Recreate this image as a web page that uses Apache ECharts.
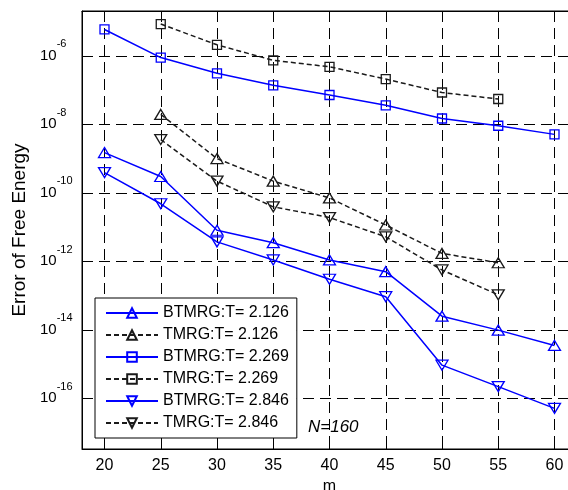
<!DOCTYPE html>
<html><head><meta charset="utf-8">
<script src="https://cdn.jsdelivr.net/npm/echarts@6/dist/echarts.min.js"></script>
<style>html,body{margin:0;padding:0;background:#fff}#c{width:568px;height:490px}</style>
</head><body><div id="c"></div>
<script>
// m values
const mBTMRG = [20, 25, 30, 35, 40, 45, 50, 55, 60];
const mTMRG = [25, 30, 35, 40, 45, 50, 55];
// Errors of free energy
const btmrg2126 = [1.5e-9, 3.0e-10, 8.1e-12, 3.5e-12, 1.1e-12, 5.0e-13, 2.5e-14, 9.8e-15, 3.5e-15];
const tmrg2126 = [1.95e-8, 1.0e-9, 2.2e-10, 7.1e-11, 1.15e-11, 1.7e-12, 9.1e-13];
const btmrg2269 = [5.9e-6, 8.9e-7, 3.1e-7, 1.38e-7, 7.2e-8, 3.6e-8, 1.48e-8, 9.1e-9, 5.1e-9];
const tmrg2269 = [8.5e-6, 2.1e-6, 7.4e-7, 4.8e-7, 2.1e-7, 8.5e-8, 5.5e-8];
const btmrg2846 = [3.9e-10, 4.8e-11, 3.7e-12, 1.1e-12, 3.0e-13, 9.3e-14, 9.3e-16, 2.2e-16, 5.1e-17];
const tmrg2846 = [3.6e-9, 2.2e-10, 3.9e-11, 1.9e-11, 5.2e-12, 5.6e-13, 1.05e-13];
// tick labels
const xTickLabels = [20, 25, 30, 35, 40, 45, 50, 55, 60];
const yTickExponents = [-16, -14, -12, -10, -8, -6];
const seriesNames = ['BTMRG:T= 2.126', 'TMRG:T= 2.126', 'BTMRG:T= 2.269', 'TMRG:T= 2.269', 'BTMRG:T= 2.846', 'TMRG:T= 2.846'];

function mk(name, xs, ys, blue, shape) {
  const col = blue ? '#0000ff' : '#1a1a1a';
  return {
    name: name, type: 'line',
    data: xs.map((x, i) => [x, Math.log10(ys[i])]),
    symbol: shape === 'sq' ? 'rect' : 'triangle',
    symbolRotate: shape === 'down' ? 180 : 0,
    symbolSize: shape === 'sq' ? 9 : [12, 10],
    showAllSymbol: true,
    lineStyle: { color: col, width: 1.5, type: blue ? 'solid' : [5, 3] },
    itemStyle: { color: 'rgba(255,255,255,0)', borderColor: col, borderWidth: 1.3 },
    emphasis: { disabled: true },
    z: blue ? 3 : 2
  };
}

const chart = echarts.init(document.getElementById('c'), null, { renderer: 'canvas' });
chart.setOption({
  animation: false,
  backgroundColor: '#fff',
  grid: { left: 82, top: 11, bottom: 41, right: -9, outerBoundsMode: 'none', containLabel: false, show: true, borderColor: '#000', borderWidth: 1, backgroundColor: 'transparent' },
  xAxis: [{
    type: 'value', min: 18, max: 62, splitNumber: 9,
    name: 'm', nameLocation: 'middle', nameGap: 27,
    nameTextStyle: { fontFamily: 'Arial', fontSize: 16, color: '#000' },
    axisLine: { show: true, lineStyle: { color: '#000', width: 1 } },
    axisTick: { show: true, inside: true, length: 5, lineStyle: { color: '#000' } },
    axisLabel: {
      margin: 9, fontFamily: 'Arial', fontSize: 16, color: '#000',
      formatter: v => xTickLabels.indexOf(v) >= 0 ? String(v) : ''
    },
    splitLine: { show: true, lineStyle: { color: '#000', width: 1, type: [11, 6] } }
  }, {
    type: 'value', min: 18, max: 62, splitNumber: 9, position: 'top',
    axisLine: { show: true, lineStyle: { color: '#000', width: 1 } },
    axisTick: { show: true, inside: true, length: 5, lineStyle: { color: '#000' } },
    axisLabel: { show: false }, splitLine: { show: false }
  }],
  yAxis: {
    type: 'value', min: -17.48, max: -4.69, splitNumber: 6,
    name: 'Error of Free Energy', nameLocation: 'middle', nameGap: 50,
    nameTextStyle: { fontFamily: 'Arial', fontSize: 19, color: '#000' },
    axisLine: { show: true, lineStyle: { color: '#000', width: 1 } },
    axisTick: { show: true, inside: true, length: 5, lineStyle: { color: '#000' } },
    axisLabel: {
      margin: 42, align: 'left',
      formatter: v => yTickExponents.indexOf(v) >= 0 ? '{b|10}{e|' + v + '}' : '',
      rich: {
        b: { fontFamily: 'Arial', fontSize: 15, color: '#000', lineHeight: 34 },
        e: { fontFamily: 'Arial', fontSize: 11, color: '#000', lineHeight: 10, verticalAlign: 'top' }
      }
    },
    splitLine: { show: true, lineStyle: { color: '#000', width: 1, type: [11, 6] } }
  },
  legend: {
    orient: 'vertical', left: 95, top: 298,
    itemWidth: 52, itemHeight: 12, itemGap: 6,
    padding: [7, 8, 7, 10],
    borderColor: '#000', borderWidth: 1, backgroundColor: '#fff',
    textStyle: { fontFamily: 'Arial', fontSize: 16, color: '#000' },
    data: seriesNames
  },
  graphic: [{
    type: 'text', left: 308, top: 419,
    style: { text: 'N=160', font: 'italic 17px Arial', fill: '#000' }
  }],
  series: [
    mk(seriesNames[0], mBTMRG, btmrg2126, true, 'up'),
    mk(seriesNames[1], mTMRG, tmrg2126, false, 'up'),
    mk(seriesNames[2], mBTMRG, btmrg2269, true, 'sq'),
    mk(seriesNames[3], mTMRG, tmrg2269, false, 'sq'),
    mk(seriesNames[4], mBTMRG, btmrg2846, true, 'down'),
    mk(seriesNames[5], mTMRG, tmrg2846, false, 'down')
  ]
});
</script></body></html>
